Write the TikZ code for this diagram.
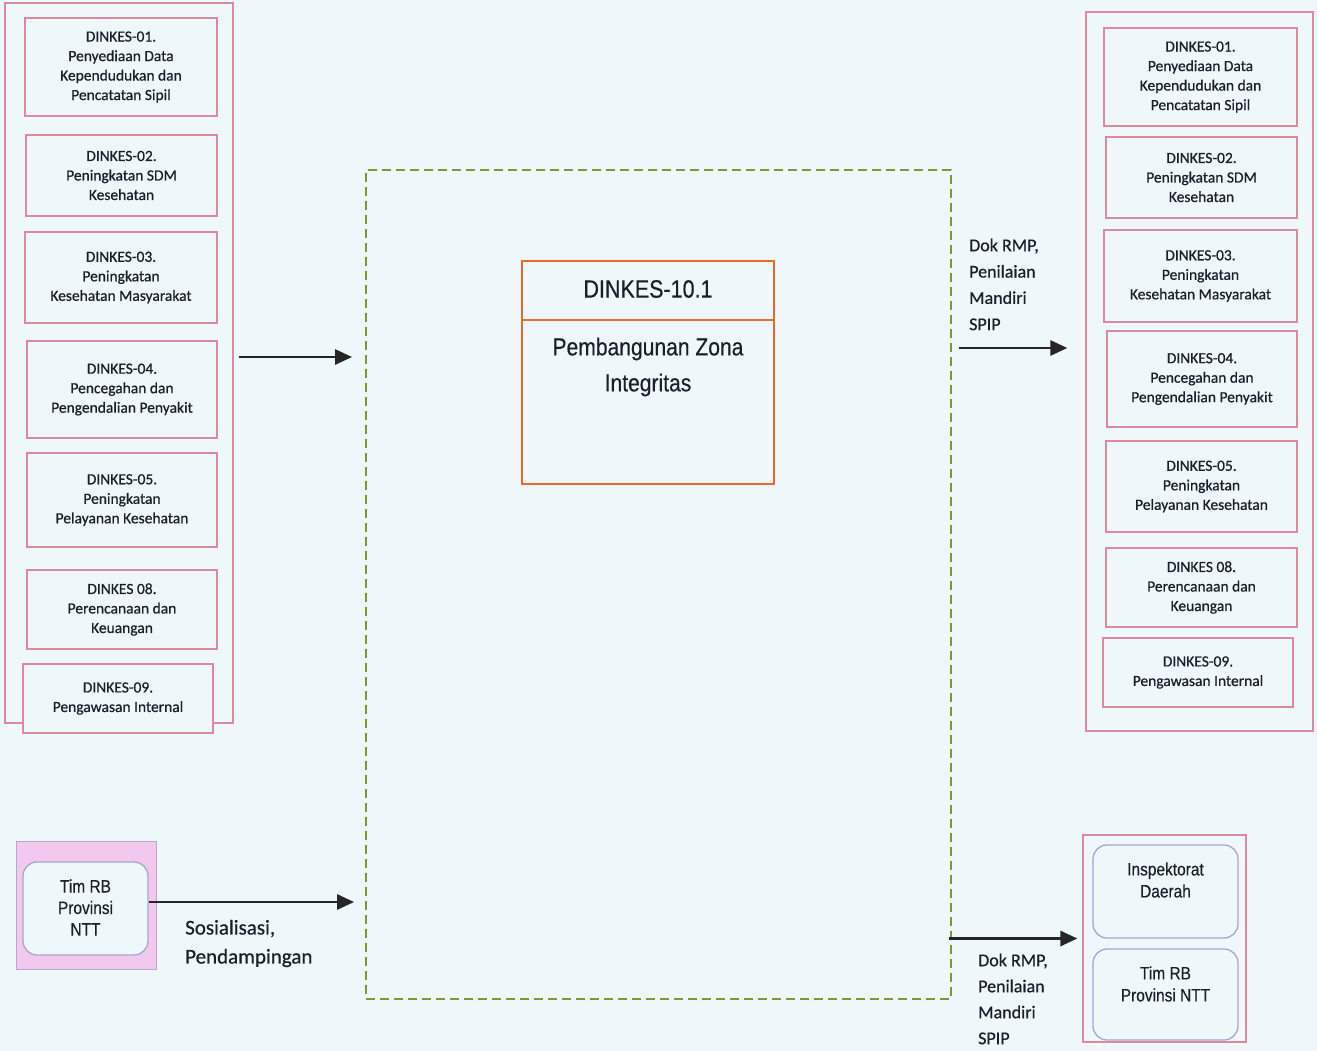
\documentclass[tikz,border=0pt]{standalone}
\usepackage{fontspec}
\setmainfont[FakeBold=0.6]{Carlito}
\newfontfamily\arialf{Liberation Sans}
\newfontfamily\arialn[FakeStretch=0.86,FakeBold=0.3]{Liberation Sans}
\usetikzlibrary{arrows.meta,calc}
\definecolor{bgc}{HTML}{EEF8FA}
\definecolor{pinkc}{HTML}{E0889F}
\definecolor{greenc}{HTML}{7A9A35}
\definecolor{orangec}{HTML}{EE6A2C}
\definecolor{lavc}{HTML}{A0A8D0}
\definecolor{pinkfill}{HTML}{F2C8EE}
\definecolor{pinkedge}{HTML}{B9A6CF}
\definecolor{txt}{HTML}{1A1F2B}
\tikzset{
  cont/.style={draw=pinkc, line width=1.3pt, inner sep=0pt},
  pbox/.style={draw=pinkc, line width=1.3pt, fill=bgc, align=center, inner sep=0pt,
    text=txt, font=\fontsize{15.5}{19.5}\selectfont},
  rbox/.style={draw=lavc, line width=1.3pt, fill=bgc, rounded corners=14pt, inner sep=0pt},
  rtext/.style={align=center, text=txt, font=\arialn\fontsize{18}{22}\selectfont, inner sep=0pt},
  lbl/.style={align=left, text=txt, inner sep=0pt, anchor=west},
  arr/.style={line width=2.8pt, draw=black!85, -{Triangle[length=17pt,width=15pt]}},
}
\begin{document}
\begin{tikzpicture}[x=1pt,y=-1pt]
\fill[bgc] (0,0) rectangle (1317,1051);
\useasboundingbox (0,0) rectangle (1317,1051);

% left container
\node[cont, minimum width=228pt, minimum height=720pt] (leftC) at (119,363) {};
\node[pbox, minimum width=192pt, minimum height=98pt] (l1) at (121,67) {DINKES-01.\\Penyediaan Data\\Kependudukan dan\\Pencatatan Sipil};
\node[pbox, minimum width=191pt, minimum height=81pt] (l2) at (121.5,175.5) {DINKES-02.\\Peningkatan SDM\\Kesehatan};
\node[pbox, minimum width=192pt, minimum height=91pt] (l3) at (121,277.5) {DINKES-03.\\Peningkatan\\Kesehatan Masyarakat};
\node[pbox, minimum width=190pt, minimum height=97pt] (l4) at (122,389.5) {DINKES-04.\\Pencegahan dan\\Pengendalian Penyakit};
\node[pbox, minimum width=190pt, minimum height=94pt] (l5) at (122,500) {DINKES-05.\\Peningkatan\\Pelayanan Kesehatan};
\node[pbox, minimum width=190pt, minimum height=79pt] (l8) at (122,609.5) {DINKES 08.\\Perencanaan dan\\Keuangan};
\node[pbox, minimum width=190pt, minimum height=69pt] (l9) at (118,698.5) {DINKES-09.\\Pengawasan Internal};

% right container
\node[cont, minimum width=227pt, minimum height=719pt] (rightC) at (1199.5,371.5) {};
\node[pbox, minimum width=193pt, minimum height=98pt] (r1) at (1200.5,77) {DINKES-01.\\Penyediaan Data\\Kependudukan dan\\Pencatatan Sipil};
\node[pbox, minimum width=191pt, minimum height=81pt] (r2) at (1201.5,177.5) {DINKES-02.\\Peningkatan SDM\\Kesehatan};
\node[pbox, minimum width=193pt, minimum height=92pt] (r3) at (1200.5,276) {DINKES-03.\\Peningkatan\\Kesehatan Masyarakat};
\node[pbox, minimum width=190pt, minimum height=96pt] (r4) at (1202,379) {DINKES-04.\\Pencegahan dan\\Pengendalian Penyakit};
\node[pbox, minimum width=191pt, minimum height=91pt] (r5) at (1201.5,486.5) {DINKES-05.\\Peningkatan\\Pelayanan Kesehatan};
\node[pbox, minimum width=191pt, minimum height=79pt] (r8) at (1201.5,587.5) {DINKES 08.\\Perencanaan dan\\Keuangan};
\node[pbox, minimum width=190pt, minimum height=69pt] (r9) at (1198,672.5) {DINKES-09.\\Pengawasan Internal};

% central dashed frame
\node[draw=greenc, line width=1.8pt, dash pattern=on 9pt off 5pt, minimum width=585pt, minimum height=829pt, inner sep=0pt] (dash) at (658.5,584.5) {};

% DINKES-10.1 process box
\node[draw=orangec, line width=1.8pt, minimum width=252pt, minimum height=223pt, inner sep=0pt] (proc) at (648,372.5) {};
\draw[orangec, line width=1.8pt] ($(proc.north west)+(0,60)$) -- ($(proc.north east)+(0,60)$);
\node[text=txt, font=\arialn\fontsize{25}{30}\selectfont, inner sep=0pt] (ptitle) at (648,289) {DINKES-10.1};
\node[text=txt, align=center, font=\arialn\fontsize{24.5}{36}\selectfont, inner sep=0pt] (pbody) at (648,367) {Pembangunan Zona\\Integritas};

% Tim RB left
\node[draw=pinkedge, line width=1pt, fill=pinkfill, minimum width=140pt, minimum height=128pt, inner sep=0pt] (tlo) at (86,905) {};
\node[rbox, minimum width=125pt, minimum height=93pt] (tli) at (85.5,908.5) {};
\node[rtext, font=\arialn\fontsize{18}{21.5}\selectfont] (tlt) at (85.5,907.5) {Tim RB\\Provinsi\\NTT};

% bottom right group
\node[cont, minimum width=163pt, minimum height=207pt] (brC) at (1164.5,938.5) {};
\node[rbox, minimum width=145pt, minimum height=93pt] (insp) at (1165.5,891.5) {};
\node[rtext] (inspt) at (1165.5,880) {Inspektorat\\Daerah};
\node[rbox, minimum width=145pt, minimum height=91pt] (timr) at (1165.5,994.5) {};
\node[rtext] (timrt) at (1165.5,984) {Tim RB\\Provinsi NTT};

% connectors
\draw[arr, shorten <=5pt, shorten >=13pt] ([yshift=6pt]leftC.east) -- ([yshift=6pt]leftC.east -| dash.west);
\draw[arr, shorten <=7pt, shorten >=18pt] ([yshift=23.5pt]rightC.west -| dash.east) -- ([yshift=23.5pt]rightC.west);
\draw[arr, shorten >=11pt] ([yshift=6.5pt]tli.east) -- ([yshift=6.5pt]tli.east -| dash.west);
\draw[arr, shorten <=-3pt, shorten >=5pt] (brC.west -| dash.east) -- (brC.west);

% labels
\node[lbl, font=\fontsize{18}{26.3}\selectfont] (lab1) at (969,284.5) {Dok RMP,\\Penilaian\\Mandiri\\SPIP};
\node[lbl, font=\fontsize{18}{26}\selectfont] (lab2) at (978,999) {Dok RMP,\\Penilaian\\Mandiri\\SPIP};
\node[lbl, font=\fontsize{21}{29}\selectfont] (lab3) at (185,943.5) {Sosialisasi,\\Pendampingan};
\end{tikzpicture}
\end{document}
